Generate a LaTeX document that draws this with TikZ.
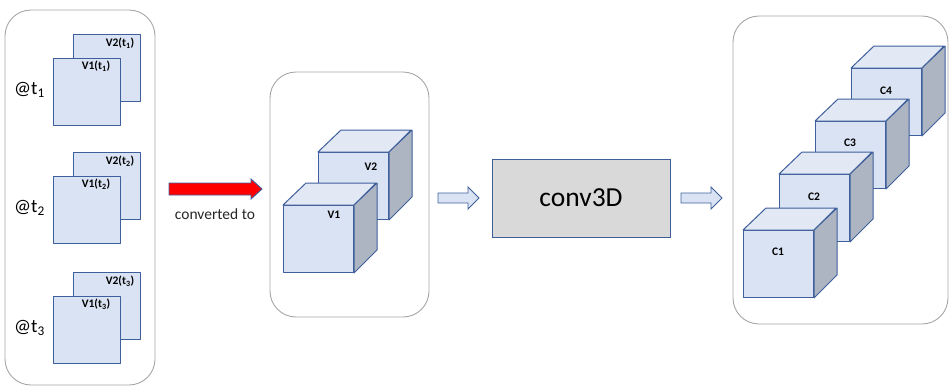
\documentclass[tikz,border=0pt]{standalone}
\usepackage{fontspec}
\setmainfont{Carlito}
\usetikzlibrary{calc}

\definecolor{facefront}{HTML}{DAE3F3}
\definecolor{facetop}{HTML}{E2E8F4}
\definecolor{faceside}{HTML}{ADB5C3}
\definecolor{edgeblue}{HTML}{3F5F9C}
\definecolor{panelgray}{HTML}{A6A6A6}
\definecolor{convgray}{HTML}{D9D9D9}

% cube: name, x, y (top-left of the front face), label, label dx, label dy
\newcommand\cubebox[6]{%
  \node[frontface] (#1) at (#2,#3) {};
  \draw[cubeedge, fill=facetop] (#1.north west) -- ++(23,-22) -- ++(70,0)
        -- (#1.north east) -- cycle;
  \draw[cubeedge, fill=faceside] (#1.north east) -- ++(23,-22) -- ++(0,67)
        -- (#1.south east) -- cycle;
  \node[boldlab] (#1-lab) at ($(#1.north west)+(#5,#6)$) {#4};
}

% pair of frames at one time step: suffix, top y, time index
\newcommand\framepair[3]{%
  \node[sheet] (v2#1) at (73,#2) {};
  \node[boldlab] (v2#1-lab) at ($(v2#1.north west)+(47,9)$) {V2(t\textsubscript{#3})};
  \node[sheet] (v1#1) at (53,#2+24) {};
  \node[boldlab] (v1#1-lab) at ($(v1#1.north west)+(43,8)$) {V1(t\textsubscript{#3})};
  \node[timelab] (at#1) at (14,#2+56) {@t\textsubscript{#3}};
}

% block arrow: style, x start, x tip, y centre, shaft half width, head half width, head length
\newcommand\blockarrow[7]{%
  \draw[#1] (#2,#4-#5) -- (#3-#7,#4-#5) -- (#3-#7,#4-#6) -- (#3,#4)
        -- (#3-#7,#4+#6) -- (#3-#7,#4+#5) -- (#2,#4+#5) -- cycle;
}

\begin{document}
\begin{tikzpicture}[x=1pt,y=-1pt,
  panel/.style={draw=panelgray, line width=0.9pt, rounded corners=26pt},
  cubeedge/.style={draw=edgeblue, line width=1pt, line join=round},
  frontface/.style={cubeedge, fill=facefront, minimum width=70pt,
                    minimum height=67pt, inner sep=0pt, anchor=north west},
  sheet/.style={cubeedge, fill=facefront, minimum width=67pt,
                minimum height=67pt, inner sep=0pt, anchor=north west},
  boldlab/.style={font=\fontsize{11.5}{13}\selectfont\bfseries, inner sep=0pt, text=black},
  timelab/.style={font=\fontsize{19}{22}\selectfont, anchor=west, inner sep=0pt},
  smallarrow/.style={draw=edgeblue, fill=facefront, line width=0.9pt, line join=miter},
  redarrow/.style={draw=edgeblue, fill=red, line width=0.9pt, line join=miter}
]
\useasboundingbox (0,0) rectangle (950,386);

% containers
\draw[panel] (5,10) rectangle (155,385);
\draw[panel] (270,72) rectangle (429,317);
\draw[panel] (733,16) rectangle (948,324);

% per-time-step frames
\framepair{a}{34}{1}
\framepair{b}{152}{2}
\framepair{c}{272}{3}

% conversion arrow
\blockarrow{redarrow}{169}{262}{189}{6}{10}{11}
\node[font=\fontsize{15.5}{18}\selectfont, inner sep=0pt, text=black!85] (conv-lab) at (215,214) {converted to};

% stacked volumes
\cubebox{vol2}{318}{152}{V2}{53}{15}
\cubebox{vol1}{283}{205}{V1}{51}{10}

% 3D convolution
\blockarrow{smallarrow}{438}{479}{198}{5}{11}{11}
\node[draw=edgeblue, fill=convgray, line width=0.9pt, minimum width=178pt,
      minimum height=78pt, inner sep=0pt, font=\fontsize{27.5}{30}\selectfont]
      (conv3d) at (581,198) {conv3D};
\blockarrow{smallarrow}{681}{722}{198}{5}{11}{11}

% output channels
\cubebox{c4}{851}{68}{C4}{35}{23}
\cubebox{c3}{815}{121}{C3}{35}{22}
\cubebox{c2}{779}{174}{C2}{35}{23}
\cubebox{c1}{743}{230}{C1}{35}{22}
\end{tikzpicture}
\end{document}
